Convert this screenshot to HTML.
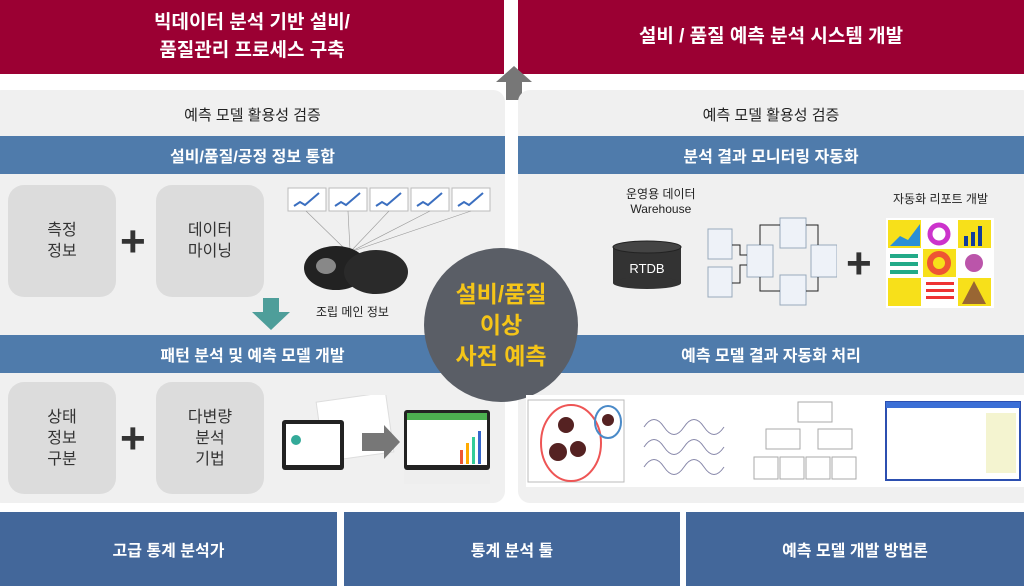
<!DOCTYPE html>
<html><head><meta charset="utf-8"><style>
*{margin:0;padding:0;box-sizing:border-box}
body{width:1024px;height:586px;background:#fff;position:relative;overflow:hidden;font-family:"Liberation Sans","Noto Sans CJK KR",sans-serif}
.a{position:absolute}
.red{background:#9b0033;color:#fff;font-size:19px;font-weight:bold;display:flex;align-items:center;justify-content:center;text-align:center;line-height:28px}
.panel{background:#f0f0f0;border-radius:12px}
.bar{background:#4f7bab;color:#fff;font-size:16px;font-weight:bold;display:flex;align-items:center;justify-content:center}
.t{font-size:15px;color:#222;text-align:center}
.box{background:#dcdcdc;border-radius:16px;display:flex;align-items:center;justify-content:center;text-align:center;font-size:16px;color:#333;line-height:21px}
.plus{font-size:44px;color:#333;font-weight:bold;line-height:1}
.bot{background:#43679a;color:#fff;font-size:16px;font-weight:bold;display:flex;align-items:center;justify-content:center}
.th{background:#fff;border:1px solid #ccc}
</style></head><body>
<div class="a red" style="left:0;top:0;width:504px;height:74px">빅데이터 분석 기반 설비/<br>품질관리 프로세스 구축</div>
<div class="a red" style="left:518px;top:0;width:506px;height:74px">설비 / 품질 예측 분석 시스템 개발</div>
<svg class="a" style="left:496px;top:66px" width="36" height="34"><polygon points="18,0 36,16 26,16 26,34 10,34 10,16 0,16" fill="#777"/></svg>

<div class="a panel" style="left:-10px;top:90px;width:515px;height:413px"></div>
<div class="a panel" style="left:518px;top:90px;width:516px;height:413px"></div>
<div class="a t" style="left:0;top:104px;width:505px">예측 모델 활용성 검증</div>
<div class="a t" style="left:518px;top:104px;width:506px">예측 모델 활용성 검증</div>
<div class="a bar" style="left:0;top:136px;width:505px;height:38px">설비/품질/공정 정보 통합</div>
<div class="a bar" style="left:518px;top:136px;width:506px;height:38px">분석 결과 모니터링 자동화</div>
<div class="a bar" style="left:0;top:335px;width:505px;height:38px">패턴 분석 및 예측 모델 개발</div>
<div class="a bar" style="left:518px;top:335px;width:506px;height:38px">예측 모델 결과 자동화 처리</div>

<div class="a box" style="left:8px;top:185px;width:108px;height:112px">측정<br>정보</div>
<div class="a plus" style="left:120px;top:220px">+</div>
<div class="a box" style="left:156px;top:185px;width:108px;height:112px">데이터<br>마이닝</div>
<div class="a box" style="left:8px;top:382px;width:108px;height:112px">상태<br>정보<br>구분</div>
<div class="a plus" style="left:120px;top:417px">+</div>
<div class="a box" style="left:156px;top:382px;width:108px;height:112px">다변량<br>분석<br>기법</div>

<svg class="a" style="left:286px;top:186px" width="206" height="110">
<g fill="#fff" stroke="#bbb"><rect x="2" y="2" width="38" height="23"/><rect x="43" y="2" width="38" height="23"/><rect x="84" y="2" width="38" height="23"/><rect x="125" y="2" width="38" height="23"/><rect x="166" y="2" width="38" height="23"/></g>
<g stroke="#3b6fc0" stroke-width="2" fill="none"><path d="M8,20 l6,-4 l5,3 l14,-12"/><path d="M49,20 l6,-4 l5,3 l14,-12"/><path d="M90,20 l6,-4 l5,3 l14,-12"/><path d="M131,20 l6,-4 l5,3 l14,-12"/><path d="M172,20 l6,-4 l5,3 l14,-12"/></g>
<g stroke="#999" stroke-width="0.6"><line x1="20" y1="25" x2="60" y2="64"/><line x1="62" y1="25" x2="64" y2="64"/><line x1="103" y1="25" x2="66" y2="64"/><line x1="144" y1="25" x2="68" y2="64"/><line x1="185" y1="25" x2="70" y2="64"/></g>
<ellipse cx="50" cy="82" rx="32" ry="22" fill="#222"/><ellipse cx="90" cy="86" rx="32" ry="22" fill="#2a2a2a"/><ellipse cx="40" cy="80" rx="10" ry="8" fill="#888"/>
</svg>
<div class="a" style="left:316px;top:303px;font-size:12px;color:#222">조립 메인 정보</div>
<svg class="a" style="left:252px;top:298px" width="38" height="32"><polygon points="11,0 27,0 27,14 38,14 19,32 0,14 11,14" fill="#4e9e9a"/></svg>

<svg class="a" style="left:280px;top:395px" width="220" height="100">
<rect x="40" y="2" width="70" height="60" fill="#fff" stroke="#ddd" transform="rotate(-8 75 32)"/>
<rect x="2" y="25" width="62" height="50" rx="3" fill="#222"/><rect x="6" y="29" width="54" height="41" fill="#fff"/>
<circle cx="16" cy="45" r="5" fill="#3a9"/>
<polygon points="82,38 104,38 104,30 120,47 104,64 104,56 82,56" fill="#777"/>
<rect x="124" y="15" width="86" height="60" rx="3" fill="#222"/><rect x="127" y="18" width="80" height="52" fill="#fff"/><rect x="127" y="18" width="80" height="7" fill="#4caf50"/>
<g fill="#e53"><rect x="180" y="55" width="3" height="14"/></g><rect x="186" y="48" width="3" height="21" fill="#fa0"/><rect x="192" y="42" width="3" height="27" fill="#3c9"/><rect x="198" y="36" width="3" height="33" fill="#36c"/>
<rect x="124" y="75" width="86" height="14" fill="#eee"/>
</svg>

<div class="a" style="left:424px;top:248px;width:154px;height:154px;border-radius:50%;background:#5a5e66;color:#f5c518;font-size:23px;font-weight:bold;display:flex;align-items:center;justify-content:center;text-align:center;line-height:31px">설비/품질<br>이상<br>사전 예측</div>

<div class="a" style="left:626px;top:187px;font-size:12px;color:#222;text-align:center;line-height:15px">운영용 데이터<br>Warehouse</div>
<svg class="a" style="left:612px;top:240px" width="72" height="50"><rect x="1" y="7" width="68" height="36" fill="#333"/><ellipse cx="35" cy="43" rx="34" ry="6" fill="#333"/><ellipse cx="35" cy="7" rx="34" ry="6" fill="#444" stroke="#222"/><text x="35" y="33" fill="#fff" font-size="13" text-anchor="middle" font-family="Liberation Sans">RTDB</text></svg>
<svg class="a" style="left:705px;top:215px" width="132" height="92">
<g fill="#eef2f8" stroke="#9ab"><rect x="3" y="14" width="24" height="30"/><rect x="3" y="52" width="24" height="30"/><rect x="42" y="30" width="26" height="32"/><rect x="75" y="3" width="26" height="30"/><rect x="106" y="30" width="26" height="32"/><rect x="75" y="60" width="26" height="30"/></g>
<g stroke="#222" fill="none"><path d="M27,30 h8 v10 h7"/><path d="M27,68 h8 v-18 h7"/><path d="M55,30 v-20 h20"/><path d="M101,10 h12 v20"/><path d="M113,62 v14 h-12"/><path d="M75,76 h-20 v-14"/></g>
</svg>
<div class="a plus" style="left:846px;top:242px">+</div>
<div class="a" style="left:893px;top:190px;font-size:12px;color:#222">자동화 리포트 개발</div>
<svg class="a" style="left:886px;top:218px" width="108" height="90">
<rect width="108" height="90" fill="#fff"/>
<g fill="#f7e01a"><rect x="2" y="2" width="33" height="28"/><rect x="72" y="2" width="33" height="28"/><rect x="37" y="31" width="33" height="28"/><rect x="2" y="60" width="33" height="28"/><rect x="72" y="60" width="33" height="28"/></g>
<circle cx="53" cy="16" r="9" fill="none" stroke="#c3c" stroke-width="5"/><circle cx="53" cy="45" r="9" fill="none" stroke="#e53" stroke-width="6"/><circle cx="88" cy="45" r="9" fill="#b5a"/>
<g fill="#123c9c"><rect x="78" y="18" width="4" height="10"/><rect x="85" y="14" width="4" height="14"/><rect x="92" y="8" width="4" height="20"/></g>
<polygon points="88,63 100,86 76,86" fill="#963"/><polygon points="4,28 14,18 22,22 34,6 34,28" fill="#2a8fd6"/>
<g fill="#2a8"><rect x="4" y="36" width="28" height="4"/><rect x="4" y="44" width="28" height="4"/><rect x="4" y="52" width="28" height="4"/></g>
<g fill="#e33"><rect x="40" y="64" width="28" height="3"/><rect x="40" y="71" width="28" height="3"/><rect x="40" y="78" width="28" height="3"/></g>
</svg>

<div class="a" style="left:526px;top:395px;width:498px;height:92px;background:#fff"></div>
<svg class="a" style="left:526px;top:397px" width="498" height="90">
<rect x="2" y="3" width="96" height="82" fill="#fff" stroke="#bbb"/>
<ellipse cx="45" cy="46" rx="30" ry="38" fill="none" stroke="#e55" stroke-width="2"/><ellipse cx="82" cy="25" rx="13" ry="16" fill="none" stroke="#4a8ac8" stroke-width="2"/>
<g fill="#522"><circle cx="40" cy="28" r="8"/><circle cx="32" cy="55" r="9"/><circle cx="52" cy="52" r="8"/><circle cx="82" cy="23" r="6"/></g>
<g stroke="#88a" fill="none"><path d="M118,30 q10,-15 20,0 t20,0 t20,0 t20,0"/><path d="M118,50 q10,-15 20,0 t20,0 t20,0 t20,0"/><path d="M118,70 q10,-15 20,0 t20,0 t20,0 t20,0"/></g>
<g fill="#fff" stroke="#aaa"><rect x="272" y="5" width="34" height="20"/><rect x="240" y="32" width="34" height="20"/><rect x="292" y="32" width="34" height="20"/><rect x="228" y="60" width="24" height="22"/><rect x="254" y="60" width="24" height="22"/><rect x="280" y="60" width="24" height="22"/><rect x="306" y="60" width="24" height="22"/></g>
<rect x="360" y="5" width="134" height="78" fill="#fff" stroke="#2c4fb0" stroke-width="2"/><rect x="360" y="5" width="134" height="6" fill="#3b6fd6"/><rect x="460" y="16" width="30" height="60" fill="#f4f4d0"/>
</svg>

<div class="a bot" style="left:0;top:512px;width:337px;height:74px">고급 통계 분석가</div>
<div class="a bot" style="left:344px;top:512px;width:336px;height:74px">통계 분석 툴</div>
<div class="a bot" style="left:686px;top:512px;width:338px;height:74px">예측 모델 개발 방법론</div>
</body></html>
